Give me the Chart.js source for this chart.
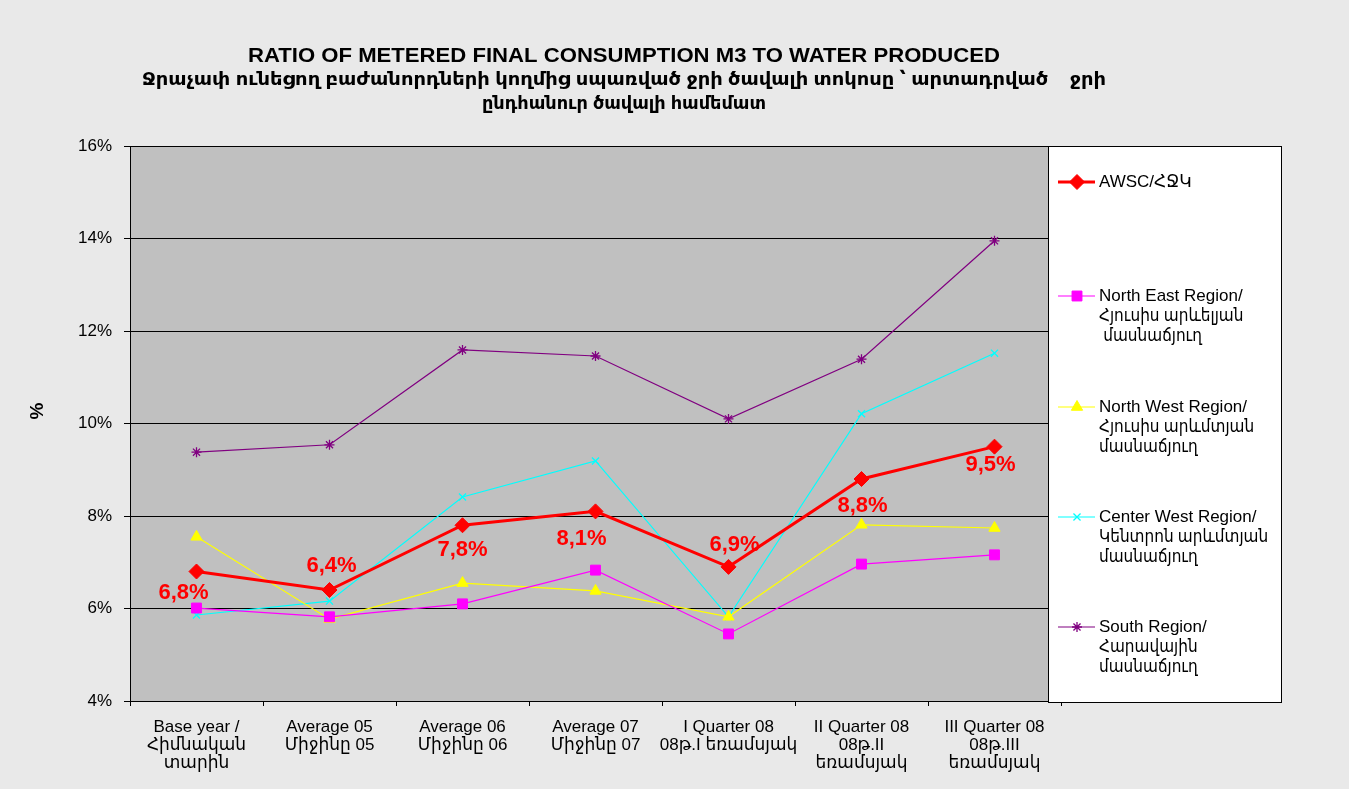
<!DOCTYPE html>
<html><head><meta charset="utf-8">
<script src="https://cdn.jsdelivr.net/npm/chart.js@4/dist/chart.umd.min.js"></script>
<style>html,body{margin:0;padding:0;background:#e8e8e8;} canvas{display:block;}</style>
</head><body>
<canvas id="c" width="1349" height="789"></canvas>
<script>
// ---- data ----
const categories = [
  ["Base year /", "Հիմնական", "տարին"],
  ["Average 05", "Միջինը 05"],
  ["Average 06", "Միջինը 06"],
  ["Average 07", "Միջինը 07"],
  ["I Quarter 08", "08թ.I եռամսյակ"],
  ["II Quarter 08", "08թ.II", "եռամսյակ"],
  ["III Quarter 08", "08թ.III", "եռամսյակ"]
];
const awsc       = [6.8, 6.4, 7.8, 8.1, 6.9, 8.8, 9.5];
const northEast  = [6.01, 5.82, 6.10, 6.83, 5.45, 6.96, 7.16];
const northWest  = [7.55, 5.77, 6.55, 6.38, 5.82, 7.81, 7.74];
const centerWest = [5.86, 6.16, 8.41, 9.19, 5.82, 10.21, 11.52];
const south      = [9.38, 9.54, 11.59, 11.46, 10.10, 11.39, 13.95];
const yTicks = [4, 6, 8, 10, 12, 14, 16];
const seriesNames = [
  ["AWSC/ՀՋԿ"],
  ["North East Region/", "Հյուսիս արևելյան", " մասնաճյուղ"],
  ["North West Region/", "Հյուսիս արևմտյան", "մասնաճյուղ"],
  ["Center West Region/", "Կենտրոն արևմտյան", "մասնաճյուղ"],
  ["South Region/", "Հարավային", "մասնաճյուղ"]
];
const titleLines = [
  "RATIO OF METERED FINAL CONSUMPTION M3 TO WATER PRODUCED",
  "Ջրաչափ ունեցող բաժանորդների կողմից սպառված ջրի ծավալի տոկոսը ՝ արտադրված    ջրի",
  "ընդհանուր ծավալի համեմատ"
];
const yAxisTitle = "%";

// ---- styles / layout ----
const FONT = "'Liberation Sans', Arial, 'DejaVu Sans', 'Noto Sans', sans-serif";
const labelOffsets = [[-13, 21], [2, -24], [0, 25], [-14, 28], [6, -22], [1, 27], [-4, 18]];
const legendRows = [182, 296, 407, 517, 627];
const titleLayout = [
  {y: 56, font: "bold 20px " + FONT, width: 752},
  {y: 80, font: "bold 17px " + FONT, width: 964},
  {y: 104, font: "bold 17px " + FONT, width: 284}
];
const LATIN = /[A-Za-z]/;

const bgPlugin = {
  id: 'bg',
  beforeDraw(chart) {
    const {ctx, chartArea: a} = chart;
    ctx.save();
    ctx.fillStyle = '#e9e9e9';
    ctx.fillRect(0, 0, chart.width, chart.height);
    ctx.fillStyle = '#c0c0c0';
    ctx.fillRect(a.left, a.top, a.right - a.left, a.bottom - a.top);
    ctx.restore();
  }
};

const labelPlugin = {
  id: 'awscLabels',
  afterDatasetsDraw(chart) {
    const {ctx} = chart;
    const meta = chart.getDatasetMeta(0);
    ctx.save();
    ctx.fillStyle = '#ff0000';
    ctx.font = "bold 22px " + FONT;
    ctx.textAlign = 'center';
    ctx.textBaseline = 'middle';
    meta.data.forEach((pt, i) => {
      const txt = awsc[i].toFixed(1).replace('.', ',') + '%';
      ctx.fillText(txt, pt.x + labelOffsets[i][0], pt.y + labelOffsets[i][1]);
    });
    ctx.restore();
  }
};

const legendPlugin = {
  id: 'customLegend',
  afterDraw(chart) {
    const {ctx} = chart;
    ctx.save();
    ctx.fillStyle = '#ffffff';
    ctx.fillRect(1048, 146, 233, 556);
    ctx.strokeStyle = '#000';
    ctx.lineWidth = 1;
    ctx.strokeRect(1048.5, 146.5, 233, 556);
    chart.data.datasets.forEach((ds, i) => {
      const y = legendRows[i];
      ctx.strokeStyle = ds.borderColor;
      ctx.lineWidth = ds.borderWidth;
      ctx.beginPath();
      ctx.moveTo(1058, y);
      ctx.lineTo(1095, y);
      ctx.stroke();
      ctx.fillStyle = ds.backgroundColor;
      ctx.lineWidth = ds.pointBorderWidth;
      Chart.helpers.drawPoint(ctx, {pointStyle: ds.pointStyle, radius: ds.pointRadius, rotation: 0, borderWidth: ds.pointBorderWidth}, 1077, y);
      ctx.fillStyle = '#000';
      ctx.font = "17px " + FONT;
      ctx.textAlign = 'left';
      ctx.textBaseline = 'middle';
      seriesNames[i].forEach((line, k) => {
        const w = ctx.measureText(line).width;
        const mw = LATIN.test(line) ? w : w * 0.9;
        ctx.fillText(line, 1099, y + k * 20, mw);
      });
    });
    ctx.restore();
  }
};

const titlePlugin = {
  id: 'customTitle',
  afterDraw(chart) {
    const {ctx} = chart;
    ctx.save();
    ctx.fillStyle = '#000';
    ctx.textAlign = 'center';
    ctx.textBaseline = 'middle';
    titleLines.forEach((t, i) => {
      const L = titleLayout[i];
      ctx.font = L.font;
      const w = ctx.measureText(t).width;
      ctx.save();
      ctx.translate(624, L.y);
      ctx.scale(L.width / w, 1);
      ctx.fillText(t, 0, 0);
      ctx.restore();
    });
    ctx.translate(38, 411);
    ctx.rotate(-Math.PI / 2);
    ctx.font = "bold 19px " + FONT;
    ctx.fillText(yAxisTitle, 0, 0);
    ctx.restore();
  }
};

new Chart(document.getElementById('c'), {
  type: 'line',
  data: {
    labels: categories,
    datasets: [
      {label: 'AWSC', data: awsc, borderColor: '#ff0000', backgroundColor: '#ff0000', borderWidth: 3,
       pointStyle: 'rectRot', pointRadius: 7.5, pointBorderWidth: 1, tension: 0},
      {label: 'NE', data: northEast, borderColor: '#ff00ff', backgroundColor: '#ff00ff', borderWidth: 1.2,
       pointStyle: 'rect', pointRadius: 7, pointBorderWidth: 1, tension: 0},
      {label: 'NW', data: northWest, borderColor: '#ffff00', backgroundColor: '#ffff00', borderWidth: 1.2,
       pointStyle: 'triangle', pointRadius: 6.5, pointBorderWidth: 1, tension: 0},
      {label: 'CW', data: centerWest, borderColor: '#00ffff', backgroundColor: '#00ffff', borderWidth: 1.2,
       pointStyle: 'crossRot', pointRadius: 5, pointBorderWidth: 1.3, tension: 0},
      {label: 'S', data: south, borderColor: '#800080', backgroundColor: '#800080', borderWidth: 1.2,
       pointStyle: 'star', pointRadius: 5, pointBorderWidth: 1.3, tension: 0}
    ]
  },
  options: {
    responsive: false,
    animation: false,
    layout: {padding: {top: 146, right: 288, left: 0, bottom: 0}},
    plugins: {legend: {display: false}, title: {display: false}, tooltip: {enabled: false}},
    scales: {
      x: {
        offset: true,
        grid: {offset: true, drawOnChartArea: false, color: '#000', tickLength: 5},
        border: {color: '#000'},
        ticks: {color: '#000', font: {size: 17, family: FONT, lineHeight: 1.07}, padding: 12, maxRotation: 0, autoSkip: false},
        afterFit(s) { s.height = 88; }
      },
      y: {
        min: 4, max: 16,
        afterBuildTicks(s) { s.ticks = yTicks.map(v => ({value: v})); },
        ticks: {callback: v => v + '%', color: '#000', font: {size: 17, family: FONT}, padding: 12},
        grid: {color: '#000', tickLength: 6},
        border: {color: '#000'},
        afterFit(s) { s.width = 130; }
      }
    }
  },
  plugins: [bgPlugin, labelPlugin, legendPlugin, titlePlugin]
});
</script>
</body></html>
